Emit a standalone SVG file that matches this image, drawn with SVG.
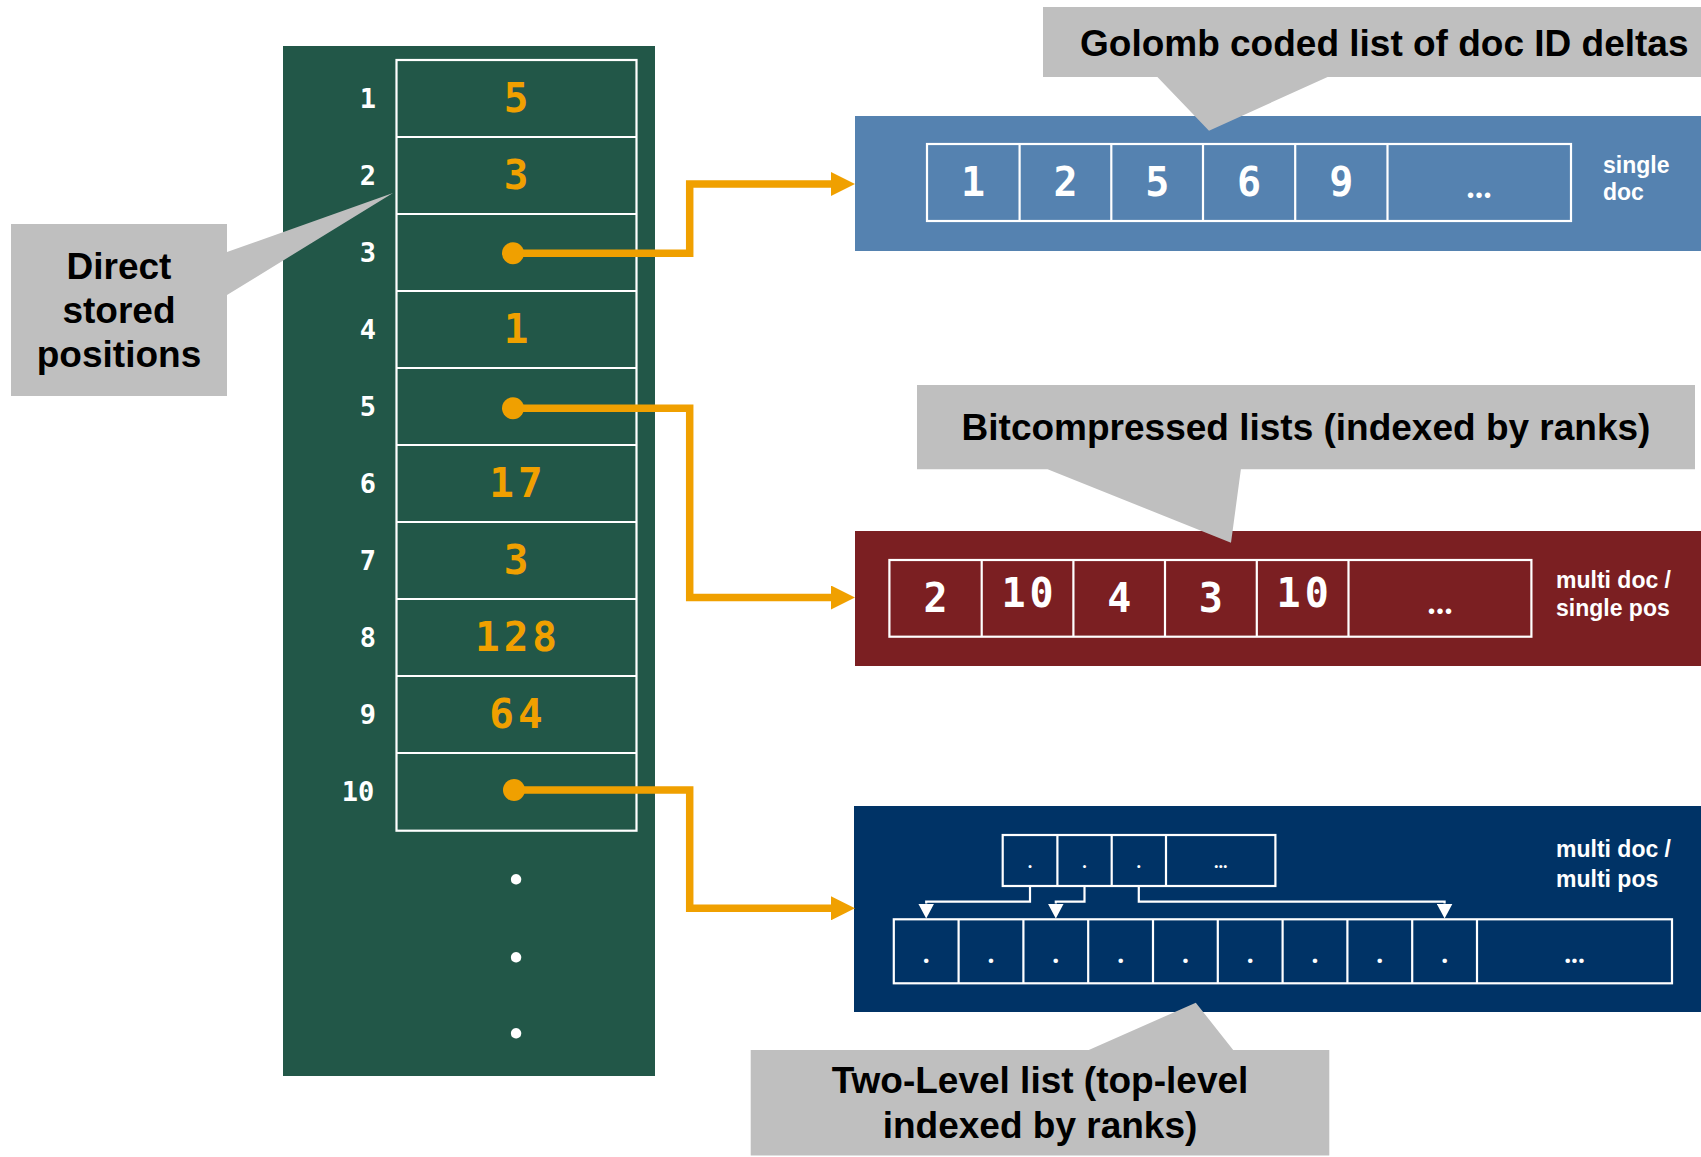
<svg xmlns="http://www.w3.org/2000/svg" width="1701" height="1157" viewBox="0 0 1701 1157">
  <style>
    .cell { fill: none; stroke: #ffffff; stroke-width: 2.2; }
    .idx { font-family: "DejaVu Sans Mono", "Liberation Mono", monospace; font-weight: bold; font-size: 27px; fill: #ffffff; text-anchor: middle; }
    .val { font-family: "DejaVu Sans Mono", "Liberation Mono", monospace; font-weight: bold; font-size: 41px; fill: #f0a000; text-anchor: middle; letter-spacing: 4px; }
    .num { font-family: "DejaVu Sans Mono", "Liberation Mono", monospace; font-weight: bold; font-size: 40px; fill: #ffffff; text-anchor: middle; letter-spacing: 4px; }
    .dots { font-family: Lato, "Liberation Sans", Arial, sans-serif; font-weight: bold; fill: #ffffff; text-anchor: middle; }
    .side { font-family: "Liberation Sans", Arial, sans-serif; font-weight: bold; font-size: 23px; fill: #ffffff; }
    .note { font-family: "Liberation Sans", Arial, sans-serif; font-weight: bold; font-size: 37px; fill: #000000; text-anchor: middle; }
    .callout { fill: #bfbfbf; }
    .link { fill: none; stroke: #f0a000; stroke-width: 7.5; stroke-linejoin: miter; marker-end: url(#orangeHead); }
    .tree { fill: none; stroke: #ffffff; stroke-width: 2.2; marker-end: url(#whiteHead); }
  </style>
  <defs>
    <marker id="orangeHead" markerUnits="userSpaceOnUse" markerWidth="24" markerHeight="24" viewBox="0 0 24 24" refX="0" refY="12" orient="auto">
      <path d="M0,0 L24,12 L0,24 Z" fill="#f0a000"/>
    </marker>
    <marker id="whiteHead" markerUnits="userSpaceOnUse" markerWidth="16" markerHeight="16" viewBox="0 0 16 16" refX="0" refY="8" orient="auto">
      <path d="M0,0 L15,8 L0,16 Z" fill="#ffffff"/>
    </marker>
  </defs>

  <rect width="1701" height="1157" fill="#ffffff"/>

  <!-- position table -->
  <g id="position-table">
    <rect x="283" y="46" width="372" height="1030" fill="#225748"/>
    <rect class="cell" x="396.5" y="60" width="240" height="770.7"/>
    <path class="cell" d="M396.5,137 H636.5 M396.5,214 H636.5 M396.5,291 H636.5 M396.5,368 H636.5 M396.5,445 H636.5 M396.5,522 H636.5 M396.5,599 H636.5 M396.5,676 H636.5 M396.5,753 H636.5"/>
    <text class="idx" x="368" y="107.5">1</text>
    <text class="idx" x="368" y="184.5">2</text>
    <text class="idx" x="368" y="261.5">3</text>
    <text class="idx" x="368" y="338.5">4</text>
    <text class="idx" x="368" y="415.5">5</text>
    <text class="idx" x="368" y="492.5">6</text>
    <text class="idx" x="368" y="569.5">7</text>
    <text class="idx" x="368" y="646.5">8</text>
    <text class="idx" x="368" y="723.5">9</text>
    <text class="idx" x="358" y="800.5">10</text>
    <text class="val" x="518" y="111.5">5</text>
    <text class="val" x="518" y="188.5">3</text>
    <text class="val" x="518" y="342.5">1</text>
    <text class="val" x="518" y="496.5">17</text>
    <text class="val" x="518" y="573.5">3</text>
    <text class="val" x="518" y="650.5">128</text>
    <text class="val" x="518" y="727.5">64</text>
    <text class="dots" x="516" y="884" font-size="68">.</text>
    <text class="dots" x="516" y="962" font-size="68">.</text>
    <text class="dots" x="516" y="1038" font-size="68">.</text>
  </g>

  <!-- single doc list -->
  <g id="golomb-list">
    <rect x="855" y="116" width="846" height="135" fill="#5582b0"/>
    <rect class="cell" x="927" y="144" width="644" height="77"/>
    <path class="cell" d="M1019.6,144 V221 M1111.3,144 V221 M1203,144 V221 M1295.2,144 V221 M1387.5,144 V221"/>
    <text class="num" x="975" y="196">1</text>
    <text class="num" x="1067.5" y="196">2</text>
    <text class="num" x="1159.2" y="196">5</text>
    <text class="num" x="1251.1" y="196">6</text>
    <text class="num" x="1343.4" y="196">9</text>
    <text class="dots" x="1479" y="198" font-size="36">...</text>
    <text class="side" x="1603" y="172.5">single</text>
    <text class="side" x="1603" y="200">doc</text>
  </g>

  <!-- multi doc / single pos list -->
  <g id="bitcompressed-list">
    <rect x="855" y="531" width="846" height="135" fill="#7b1f22"/>
    <rect class="cell" x="889.4" y="560" width="642" height="76.7"/>
    <path class="cell" d="M981.7,560 V636.7 M1073.4,560 V636.7 M1165,560 V636.7 M1256.8,560 V636.7 M1348.5,560 V636.7"/>
    <text class="num" x="937.6" y="612">2</text>
    <text class="num" x="1029.6" y="607">10</text>
    <text class="num" x="1121.2" y="612">4</text>
    <text class="num" x="1212.9" y="612">3</text>
    <text class="num" x="1304.7" y="607">10</text>
    <text class="dots" x="1440" y="614" font-size="36">...</text>
    <text class="side" x="1556" y="588">multi doc /</text>
    <text class="side" x="1556" y="616">single pos</text>
  </g>

  <!-- multi doc / multi pos two-level list -->
  <g id="two-level-list">
    <rect x="854" y="806" width="847" height="206" fill="#003366"/>
    <rect class="cell" x="1002.7" y="835" width="272.7" height="51"/>
    <path class="cell" d="M1057.4,835 V886 M1111.7,835 V886 M1166,835 V886"/>
    <text class="dots" x="1030" y="868" font-size="19">.</text>
    <text class="dots" x="1084.5" y="868" font-size="19">.</text>
    <text class="dots" x="1138.8" y="868" font-size="19">.</text>
    <text class="dots" x="1220.7" y="868" font-size="19">...</text>
    <rect class="cell" x="893.8" y="919.3" width="778.2" height="64"/>
    <path class="cell" d="M958.6,919.3 V983.3 M1023.4,919.3 V983.3 M1088.2,919.3 V983.3 M1153,919.3 V983.3 M1217.8,919.3 V983.3 M1282.6,919.3 V983.3 M1347.4,919.3 V983.3 M1412.2,919.3 V983.3 M1477,919.3 V983.3"/>
    <text class="dots" x="926.2" y="963" font-size="29">.</text>
    <text class="dots" x="991" y="963" font-size="29">.</text>
    <text class="dots" x="1055.8" y="963" font-size="29">.</text>
    <text class="dots" x="1120.6" y="963" font-size="29">.</text>
    <text class="dots" x="1185.4" y="963" font-size="29">.</text>
    <text class="dots" x="1250.2" y="963" font-size="29">.</text>
    <text class="dots" x="1315" y="963" font-size="29">.</text>
    <text class="dots" x="1379.8" y="963" font-size="29">.</text>
    <text class="dots" x="1444.6" y="963" font-size="29">.</text>
    <text class="dots" x="1574.5" y="963" font-size="29">...</text>
    <g id="rank-links">
      <path class="tree" d="M1030,886 V901.7 H926.2 V903.5"/>
      <path class="tree" d="M1084.5,886 V901.7 H1055.8 V903.5"/>
      <path class="tree" d="M1138.8,886 V901.7 H1444.6 V903.5"/>
    </g>
    <text class="side" x="1556" y="857">multi doc /</text>
    <text class="side" x="1556" y="886.5">multi pos</text>
  </g>

  <!-- pointers from table entries to the lists -->
  <g id="connectors">
    <circle cx="513" cy="253.3" r="11" fill="#f0a000"/>
    <circle cx="513" cy="408.3" r="11" fill="#f0a000"/>
    <circle cx="514" cy="790" r="11" fill="#f0a000"/>
    <path class="link" d="M513,253.3 H689.7 V184 H831"/>
    <path class="link" d="M513,408.3 H689.7 V597.5 H831"/>
    <path class="link" d="M514,790 H689.7 V908.3 H831"/>
  </g>

  <!-- explanatory callouts -->
  <g id="callout-direct">
    <path class="callout" d="M11,224 H227 V252 L393,193 L227,295 V396 H11 Z"/>
    <text class="note" x="119" y="279">Direct</text>
    <text class="note" x="119" y="323">stored</text>
    <text class="note" x="119" y="367">positions</text>
  </g>
  <g id="callout-golomb">
    <path class="callout" d="M1043,7 H1701 V77 H1327.6 L1209,130.7 L1157.4,77 H1043 Z"/>
    <text class="note" x="1080" y="56" style="text-anchor:start">Golomb coded list of doc ID deltas</text>
  </g>
  <g id="callout-bitcompressed">
    <path class="callout" d="M917,385 H1695 V469.3 H1240.9 L1231,542.7 L1047.6,469.3 H917 Z"/>
    <text class="note" x="1306" y="440">Bitcompressed lists (indexed by ranks)</text>
  </g>
  <g id="callout-two-level">
    <path class="callout" d="M750.7,1050 H1088.8 L1195.8,1002.7 L1233.2,1050 H1329.3 V1155.6 H750.7 Z"/>
    <text class="note" x="1040" y="1093">Two-Level list (top-level</text>
    <text class="note" x="1040" y="1138">indexed by ranks)</text>
  </g>
</svg>
